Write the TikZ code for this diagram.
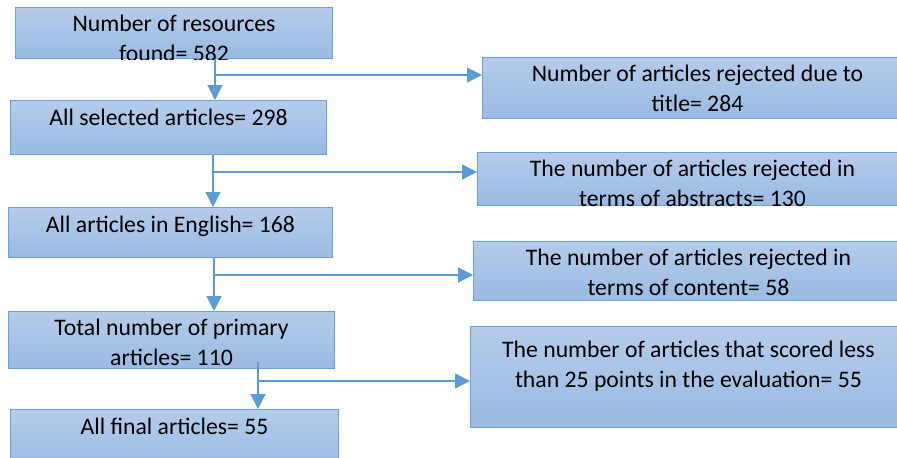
\documentclass[tikz,border=0pt]{standalone}
\usepackage{fontspec}
\setmainfont{Carlito}
\usetikzlibrary{arrows.meta}
\definecolor{boxtop}{rgb}{0.71,0.80,0.92}
\definecolor{boxbottom}{rgb}{0.60,0.73,0.89}
\definecolor{boxline}{rgb}{0.42,0.63,0.85}
\definecolor{flowblue}{rgb}{0.36,0.61,0.84}

\begin{document}
\begin{tikzpicture}[
  x=0.02cm, y=-0.02cm,
  >={Triangle[length=0.3cm, width=0.3cm]},
  every node/.style={font=\fontsize{13.5}{17}\selectfont},
  stage/.style={rectangle, anchor=north west, top color=boxtop, bottom color=boxbottom, draw=boxline, line width=0.6pt, inner sep=0pt},
  stagetext/.style={anchor=north, align=center, inner sep=0pt, text=black, yshift=-0.15cm, execute at begin node=\strut},
  flow/.style={->, draw=flowblue, line width=0.7pt},
]
\clip (0,0) rectangle (897,457);

% ---- left column: kept articles ----
\node[stage, minimum width=6.34cm, minimum height=1.02cm] (found)    at (15,7)   {};
\node[stage, minimum width=6.32cm, minimum height=1.08cm] (selected) at (10,100) {};
\node[stage, minimum width=6.48cm, minimum height=1.00cm] (english)  at (8,207)  {};
\node[stage, minimum width=6.52cm, minimum height=1.14cm] (primary)  at (8,311)  {};
\node[stage, minimum width=6.56cm, minimum height=1.22cm] (final)    at (10,409) {};

% ---- right column: rejected articles ----
\node[stage, minimum width=8.60cm, minimum height=1.22cm] (title)    at (482,57)  {};
\node[stage, minimum width=8.60cm, minimum height=1.06cm] (abstract) at (477,152) {};
\node[stage, minimum width=8.60cm, minimum height=1.18cm] (content)  at (473,241) {};
\node[stage, minimum width=8.72cm, minimum height=2.02cm] (score)    at (470,326) {};

% ---- texts ----
\begin{scope}
  \clip (found.south west) rectangle (found.north east);
  \node[stagetext] (foundtext) at (found.north) {Number of resources\\found= 582};
\end{scope}
\node[stagetext, yshift=0.06cm] (selectedtext) at (selected.north) {All selected articles= 298};
\node[stagetext, yshift=0.06cm] (englishtext)  at (english.north)  {All articles in English= 168};
\node[stagetext] (primarytext)  at (primary.north)  {Total number of primary\\articles= 110};
\node[stagetext, yshift=0.06cm] (finaltext)    at (final.north)    {All final articles= 55};

\node[stagetext] (titletext) at (title.north) {Number of articles rejected due to\\title= 284};
\begin{scope}
  \clip (abstract.south west) rectangle (abstract.north east);
  \node[stagetext] (abstracttext) at (abstract.north) {The number of articles rejected in\\terms of abstracts= 130};
\end{scope}
\node[stagetext] (contenttext) at (content.north) {The number of articles rejected in\\terms of content= 58};
\node[stagetext, yshift=-0.15cm] (scoretext) at (score.north) {The number of articles that scored less\\than 25 points in the evaluation= 55};

% ---- connectors ----
\coordinate (j1) at (215,75);
\coordinate (j2) at (213,172);
\coordinate (j3) at (214,275);
\coordinate (j4) at (258,381);
\coordinate (s4) at (258,362);

\draw[flow] (found.south -| j1) -- (selected.north -| j1);
\draw[flow] (j1) -- (j1 -| title.west);

\draw[flow] (selected.south -| j2) -- (english.north -| j2);
\draw[flow] (j2) -- (j2 -| abstract.west);

\draw[flow] (english.south -| j3) -- (primary.north -| j3);
\draw[flow] (j3) -- (j3 -| content.west);

\draw[flow] (s4) -- (s4 |- final.north);
\draw[flow] (j4) -- (j4 -| score.west);

\end{tikzpicture}
\end{document}
